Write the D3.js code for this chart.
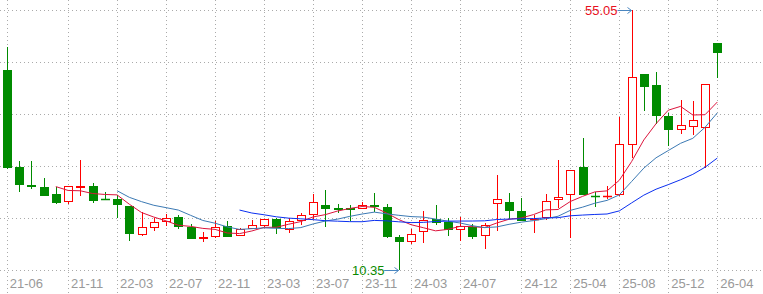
<!DOCTYPE html>
<html>
<head>
<meta charset="utf-8">
<script src="https://cdn.jsdelivr.net/npm/d3@7"></script>
<style>
body { margin: 0; background: #fff; }
</style>
</head>
<body>
<script>
var months = [
    '21-06', '21-07', '21-08', '21-09', '21-10', '21-11', '21-12',
    '22-01', '22-02', '22-03', '22-04', '22-05', '22-06', '22-07', '22-08', '22-09', '22-10', '22-11', '22-12',
    '23-01', '23-02', '23-03', '23-04', '23-05', '23-06', '23-07', '23-08', '23-09', '23-10', '23-11', '23-12',
    '24-01', '24-02', '24-03', '24-04', '24-05', '24-06', '24-07', '24-08', '24-09', '24-10', '24-11', '24-12',
    '25-01', '25-02', '25-03', '25-04', '25-05', '25-06', '25-07', '25-08', '25-09', '25-10', '25-11', '25-12',
    '26-01', '26-02', '26-03', '26-04'
];

var open = [
    44.74, 28.11, 24.90, 24.62, 23.42, 22.16, 24.70, 24.80, 22.55, 22.51,
    21.36, 16.49, 17.69, 18.83, 19.41, 17.80, 15.90, 16.14, 17.87, 16.32,
    17.63, 18.04, 19.12, 17.40, 18.95, 19.93, 21.53, 20.95, 20.95, 21.07,
    21.53, 21.18, 16.03, 15.28, 17.06, 19.07, 18.61, 17.35, 17.80, 16.32,
    21.82, 22.00, 20.55, 19.10, 19.52, 22.62, 23.37, 28.06, 23.05, 23.00,
    23.37, 31.96, 44.05, 42.16, 36.83, 34.54, 35.06, 35.00, 49.38
];

var high = [
    48.74, 29.09, 29.09, 26.17, 24.57, 24.85, 29.26, 25.31, 23.71, 23.25,
    21.40, 20.38, 19.24, 19.93, 19.76, 18.26, 16.94, 18.83, 18.83, 17.50,
    18.95, 19.10, 19.35, 19.35, 20.10, 23.42, 24.11, 21.70, 21.53, 21.99,
    23.59, 21.70, 16.30, 17.35, 20.49, 21.53, 19.29, 19.52, 18.20, 18.50,
    26.69, 23.59, 22.73, 19.80, 23.37, 29.26, 27.49, 33.10, 23.71, 24.74,
    36.71, 55.05, 44.05, 44.45, 37.30, 39.58, 39.41, 42.28, 49.38
];

var low = [
    27.67, 23.82, 24.23, 23.19, 21.75, 21.75, 23.13, 21.93, 22.39, 19.35,
    15.39, 16.25, 17.11, 17.97, 17.45, 15.74, 15.22, 15.91, 16.00, 16.14,
    17.45, 17.80, 16.49, 16.66, 18.09, 19.18, 17.80, 20.10, 18.83, 20.90,
    20.38, 15.90, 10.35, 14.90, 15.05, 18.10, 16.20, 15.34, 15.68, 14.02,
    17.00, 19.07, 18.90, 16.77, 19.00, 21.00, 15.80, 23.37, 21.13, 22.50,
    23.00, 29.66, 37.74, 35.45, 31.72, 33.74, 33.56, 27.84, 43.41
];

var close = [
    28.11, 25.14, 24.80, 23.30, 22.10, 24.80, 24.85, 22.44, 22.50, 21.75,
    16.77, 17.69, 18.55, 19.24, 17.97, 15.80, 15.97, 17.69, 16.14, 17.45,
    18.03, 19.07, 17.80, 18.72, 19.76, 22.00, 21.07, 20.90, 20.90, 21.47,
    21.30, 16.14, 15.28, 16.49, 18.89, 18.61, 17.40, 17.87, 16.25, 18.14,
    22.51, 20.62, 18.95, 19.18, 22.16, 22.85, 27.49, 23.37, 23.02, 23.05,
    31.96, 43.48, 42.04, 37.00, 34.65, 35.23, 36.08, 42.28, 47.88
];

var tickLabels = ['21-06', '21-11', '22-03', '22-07', '22-11', '23-03', '23-07', '23-11',
    '24-03', '24-07', '24-12', '25-04', '25-08', '25-12', '26-04'];

var maPeriods = [5, 10, 20];
var maColors = ['#dc143c', '#3c7ab4', '#0a2ff0'];

var upColor = '#ff0000';
var downColor = '#008b00';
var gridColor = '#aaaaaa';

var width = 763;
var height = 294;

var svg = d3.select('body').append('svg')
    .attr('width', width)
    .attr('height', height)
    .style('display', 'block');

var x = d3.scalePoint()
    .domain(months)
    .range([6.8, 717.3]);

var y = d3.scaleLinear()
    .domain([10.35, 55.05])
    .range([270, 10]);

function px(v) {
    return Math.round(v) + 0.5;
}

// grid
var yDomain = y.domain();
var gridVals = d3.range(6).map(function (i) {
    return yDomain[0] + i * (yDomain[1] - yDomain[0]) / 5;
});

svg.append('g').selectAll('line')
    .data(gridVals)
    .join('line')
    .attr('x1', 0)
    .attr('x2', width)
    .attr('y1', function (d) { return px(y(d)); })
    .attr('y2', function (d) { return px(y(d)); })
    .attr('stroke', gridColor)
    .attr('stroke-dasharray', '1,3');

svg.append('g').selectAll('line')
    .data(tickLabels)
    .join('line')
    .attr('x1', function (d) { return px(x(d)); })
    .attr('x2', function (d) { return px(x(d)); })
    .attr('y1', 0)
    .attr('y2', height)
    .attr('stroke', gridColor)
    .attr('stroke-dasharray', '1,3');

svg.append('g').selectAll('text')
    .data(tickLabels)
    .join('text')
    .attr('x', function (d) { return x(d) + 3; })
    .attr('y', 288)
    .attr('fill', '#999')
    .style('font-family', 'Liberation Sans, Arial, sans-serif')
    .style('font-size', '13px')
    .text(function (d) { return d; });

// candles
var candles = months.map(function (m, i) {
    return { m: m, o: open[i], h: high[i], l: low[i], c: close[i] };
});

var cg = svg.append('g').selectAll('g')
    .data(candles)
    .join('g');

cg.append('line')
    .attr('x1', function (d) { return px(x(d.m)); })
    .attr('x2', function (d) { return px(x(d.m)); })
    .attr('y1', function (d) { return Math.round(y(d.h)); })
    .attr('y2', function (d) { return Math.round(y(d.l)); })
    .attr('stroke', function (d) { return d.c >= d.o ? upColor : downColor; });

cg.each(function (d) {
    var g = d3.select(this);
    var col = d.c >= d.o ? upColor : downColor;
    var cx = px(x(d.m));
    var top = Math.round(y(Math.max(d.o, d.c)));
    var bot = Math.round(y(Math.min(d.o, d.c)));
    if (bot - top < 1) {
        g.append('line')
            .attr('x1', cx - 4.5)
            .attr('x2', cx + 4.5)
            .attr('y1', top + 0.5)
            .attr('y2', top + 0.5)
            .attr('stroke', col)
            .attr('stroke-width', 1.5);
    } else {
        g.append('rect')
            .attr('x', cx - 4)
            .attr('y', top + 0.5)
            .attr('width', 8)
            .attr('height', bot - top)
            .attr('fill', d.c >= d.o ? '#fff' : downColor)
            .attr('stroke', col);
    }
});

// moving averages
function movingAverage(n) {
    return close.map(function (v, i) {
        if (i < n - 1) return null;
        return d3.mean(close.slice(i - n + 1, i + 1));
    });
}

var line = d3.line()
    .defined(function (d) { return d != null; })
    .x(function (d, i) { return x(months[i]); })
    .y(function (d) { return y(d); });

maPeriods.forEach(function (n, k) {
    svg.append('path')
        .datum(movingAverage(n))
        .attr('d', line)
        .attr('fill', 'none')
        .attr('stroke', maColors[k])
        .attr('stroke-width', 1);
});

// max / min markers
var hiIdx = d3.maxIndex(high);
var loIdx = d3.minIndex(low);

function marker(idx, value, color) {
    var cx = px(x(months[idx]));
    var yy = px(y(value));
    var g = svg.append('g');
    g.append('line')
        .attr('x1', cx - 15)
        .attr('x2', cx - 1)
        .attr('y1', yy)
        .attr('y2', yy)
        .attr('stroke', '#4a86c0');
    g.append('path')
        .attr('d', 'M' + (cx - 5) + ',' + (yy - 3) + 'L' + (cx - 1) + ',' + yy + 'L' + (cx - 5) + ',' + (yy + 3))
        .attr('fill', 'none')
        .attr('stroke', '#4a86c0');
    g.append('text')
        .attr('x', cx - 15)
        .attr('y', yy)
        .attr('dy', '0.35em')
        .attr('text-anchor', 'end')
        .attr('fill', color)
        .style('font-family', 'Liberation Sans, Arial, sans-serif')
        .style('font-size', '13px')
        .text(value.toFixed(2));
}

marker(hiIdx, high[hiIdx], '#e8101e');
marker(loIdx, low[loIdx], '#0a8a00');
</script>
</body>
</html>
